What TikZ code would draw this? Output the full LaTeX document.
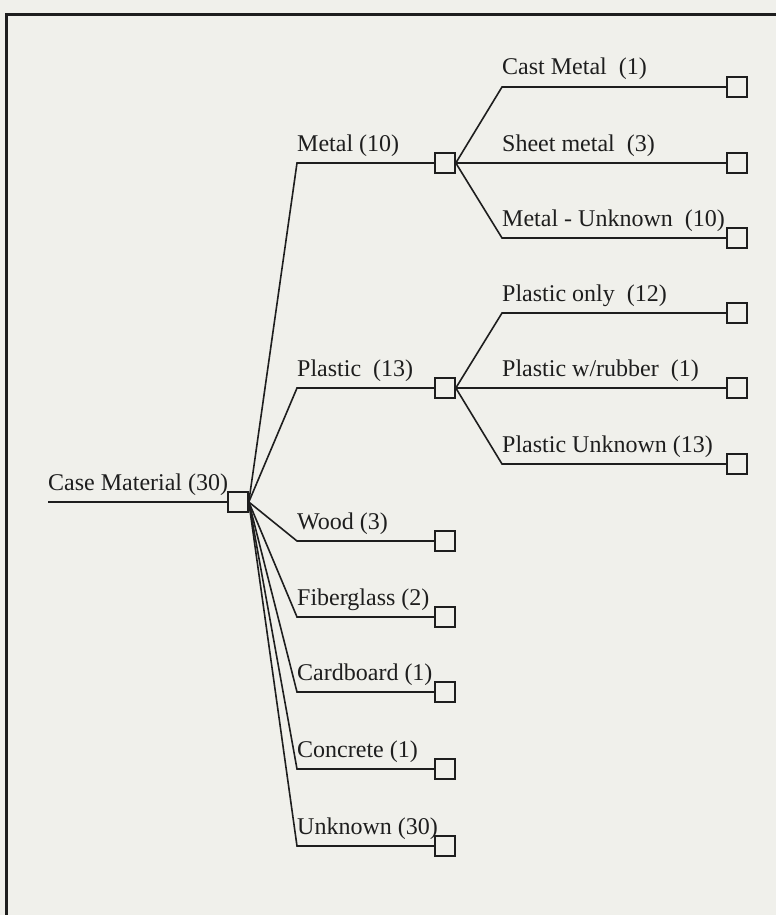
\documentclass[tikz,border=0pt]{standalone}
\usepackage{fontspec}
\setmainfont{Liberation Serif}
\definecolor{paper}{RGB}{240,240,235}
\definecolor{ink}{RGB}{30,30,30}
\begin{document}
\begin{tikzpicture}[x=1pt,y=-1pt,
  decision/.style={draw=ink,line width=1.6pt,fill=paper,minimum size=20pt,inner sep=0pt},
  branch/.style={draw=ink,line width=1.6pt},
  lbl/.style={anchor=base west,inner sep=0pt,text=ink,font=\fontsize{24}{28}\selectfont}]
  % page and frame
  \fill[paper] (0,0) rectangle (776,915);
  \useasboundingbox (0,0) rectangle (776,915);
  \draw[ink,line width=3pt] (6,915) -- (6,14.5) -- (776,14.5);

  % root
  \coordinate (rootin) at (48,502);
  \node[decision] (root) at (238,502) {};
  \node[lbl] (rootlbl) at (48,490) {Case Material (30)};
  \draw[branch] (rootin) -- (root.west);

  % first level
  \foreach \n/\y/\t in {metal/163/{Metal (10)},
                         plastic/388/{Plastic\ \ (13)},
                         wood/541/{Wood (3)},
                         fiber/617/{Fiberglass (2)},
                         card/692/{Cardboard (1)},
                         concrete/769/{Concrete (1)},
                         unk/846/{Unknown (30)}}{
    \coordinate (\n-s) at (297,\y);
    \node[decision] (\n) at (445,\y) {};
    \node[lbl] (\n-lbl) at (297,\y-12) {\t};
    \draw[branch] (root.east) -- (\n-s) -- (\n.west);
  }

  % second level under metal
  \foreach \n/\y/\t in {cast/87/{Cast Metal\ \ (1)},
                         sheet/163/{Sheet metal\ \ (3)},
                         munk/238/{Metal - Unknown\ \ (10)}}{
    \coordinate (\n-s) at (502,\y);
    \node[decision] (\n) at (737,\y) {};
    \node[lbl] (\n-lbl) at (502,\y-12) {\t};
    \draw[branch] (metal.east) -- (\n-s) -- (\n.west);
  }

  % second level under plastic
  \foreach \n/\y/\t in {ponly/313/{Plastic only\ \ (12)},
                         prub/388/{Plastic w/rubber\ \ (1)},
                         punk/464/{Plastic Unknown (13)}}{
    \coordinate (\n-s) at (502,\y);
    \node[decision] (\n) at (737,\y) {};
    \node[lbl] (\n-lbl) at (502,\y-12) {\t};
    \draw[branch] (plastic.east) -- (\n-s) -- (\n.west);
  }
\end{tikzpicture}
\end{document}
